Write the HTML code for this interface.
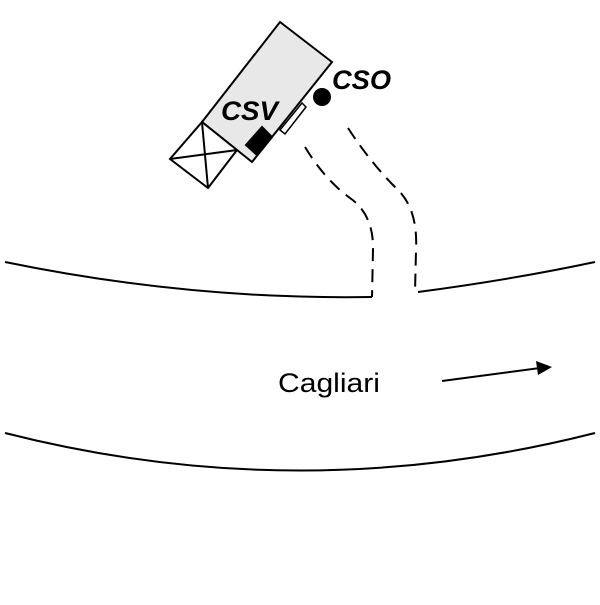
<!DOCTYPE html>
<html><head><style>body{margin:0;background:#fff}</style></head><body>
<svg width="600" height="600" viewBox="0 0 600 600" xmlns="http://www.w3.org/2000/svg">
<rect width="600" height="600" fill="#fff"/>
<g stroke="#000" stroke-width="2" fill="none">
<path d="M5,262 Q190,300 372,297"/>
<path d="M418,292 Q510,280 595,262"/>
<path d="M5,433 Q300,508 595,433"/>
<line x1="442" y1="381" x2="540" y2="368"/>
</g>
<polygon points="552,367 536,361 538,375" fill="#000"/>
<g stroke="#000" stroke-width="2" fill="none" stroke-dasharray="13,8">
<path d="M305,147 Q325,180 350,198 Q374,215 373,250 L372,297"/>
<path d="M348,128 Q372,165 400,192 Q418,212 416,250 L415,293"/>
</g>
<g stroke="#000" stroke-width="2">
<polygon points="280,22 332,62 252,162 202,122" fill="#e8e8e8"/>
<polygon points="202,122 237,150 208,188 170,159" fill="#fff"/>
<line x1="202" y1="122" x2="208" y2="188"/>
<line x1="170" y1="159" x2="237" y2="150"/>
<polygon points="246,145 257,155 272,137 262,127" fill="#000"/>
<polygon points="280,130 285,134 306,107 302,103" fill="#fff" stroke-width="1.5"/>
</g>
<circle cx="322" cy="97" r="9" fill="#000"/>
<g font-family="Liberation Sans, sans-serif" font-weight="bold" font-style="italic" font-size="27">
<text x="332" y="89" textLength="59" lengthAdjust="spacingAndGlyphs">CSO</text>
<text x="221" y="120" textLength="57" lengthAdjust="spacingAndGlyphs">CSV</text>
</g>
<text x="278" y="392" font-family="Liberation Sans, sans-serif" font-size="27" textLength="102" lengthAdjust="spacingAndGlyphs">Cagliari</text>
</svg>
</body></html>
